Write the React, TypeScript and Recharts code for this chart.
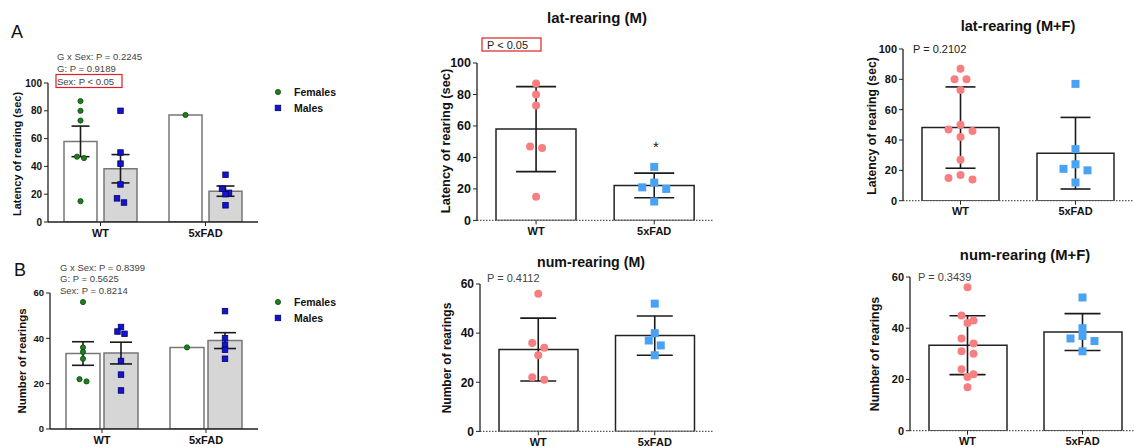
import { Bar, ComposedChart, ErrorBar, Scatter, XAxis, YAxis } from "recharts";

const GROUPS = ["WT", "5xFAD"];
const LAT_TICKS = [0, 20, 40, 60, 80, 100];
const NUM_TICKS = [0, 20, 40, 60];

// A: latency of rearing (sec), split by sex
const latFemales = [[87, 80, 73, 47, 46, 15], [77]];
const latMales = [[80, 50, 42, 27, 17, 14], [34, 24, 21, 20, 12]];
const latFemalesMean = [58, 77];
const latFemalesSem = [11, null];
const latMalesMean = [38.3, 22.2];
const latMalesSem = [10.2, 3.7];

// A: lat-rearing (M)
const latM = [[87, 80, 73, 47, 46, 15], [34, 24, 21, 20, 12]];
const latMMean = [58, 22.2];
const latMSd = [27, 7.8];

// A: lat-rearing (M+F)
const latMF = [[87, 80, 80, 73, 50, 47, 46, 42, 27, 17, 15, 14], [77, 34, 24, 21, 20, 12]];
const latMFMean = [48.2, 31.3];
const latMFSd = [26.8, 23.6];

// B: number of rearings, split by sex
const numFemales = [[56, 36, 34, 31, 22, 21], [36]];
const numMales = [[45, 43, 42, 30, 24, 17], [52, 40, 37, 35, 31]];
const numFemalesMean = [33.3, 36];
const numFemalesSem = [5.2, null];
const numMalesMean = [33.5, 39];
const numMalesSem = [4.8, 3.5];

// B: num-rearing (M)
const numM = [[56, 36, 34, 31, 22, 21], [52, 40, 37, 35, 31]];
const numMMean = [33.3, 39];
const numMSd = [12.8, 8];

// B: num-rearing (M+F)
const numMF = [[56, 45, 43, 42, 36, 34, 31, 30, 24, 22, 21, 17], [52, 40, 37, 36, 35, 31]];
const numMFMean = [33.4, 38.5];
const numMFSd = [11.5, 7.2];

const FONT = "'Liberation Sans', Arial, Helvetica, sans-serif";
const GREEN = "#1f7d1f";
const NAVY = "#1414cc";
const PINK = "#f77f81";
const SKY = "#4aa2f5";

type Marker = (props: any) => JSX.Element;

const dot = (r: number, fill: string, stroke = "none"): Marker => (p: any) =>
  p.cx == null ? <g /> : <circle cx={p.cx} cy={p.cy} r={r} fill={fill} stroke={stroke} strokeWidth={0.8} />;

const square = (s: number, fill: string, stroke = "none"): Marker => (p: any) =>
  p.cx == null ? <g /> : (
    <rect x={p.cx - s / 2} y={p.cy - s / 2} width={s} height={s} fill={fill} stroke={stroke} strokeWidth={0.8} />
  );

const femaleMarker = dot(2.6, GREEN, "#0d4d0d");
const maleMarker = square(5.5, NAVY, "#00006e");
const pinkMarker = dot(4, PINK);
const skyMarker = square(8, SKY);

interface Series {
  key: string;
  points: number[][];
  mean: number[];
  err: (number | null)[];
  markers: Marker[]; // one per group
  barFill: string;
}

interface PanelProps {
  x0: number;
  x1: number;
  yTop: number;
  yBot: number;
  yMax: number;
  yTicks: number[];
  series: Series[];
  barSize: number;
  barGap?: number;
  cap: number;
  tickFont: number;
  diam: number;
  step: number;
  barStroke: string;
  dottedX?: boolean;
}

// simple beeswarm: points close in y are spread sideways (pixel offsets)
function swarm(values: number[], pxPerUnit: number, diam: number, step: number) {
  const order = values.map((_, i) => i).sort((a, b) => values[b] - values[a]);
  const out = new Array(values.length).fill(0);
  let row: number[] = [];
  const flush = () => {
    const k = row.length;
    const slots: number[] = [];
    if (k % 2) {
      slots.push(0);
      for (let j = 1; slots.length < k; j++) slots.push(-j * step, j * step);
    } else {
      for (let j = 0; slots.length < k; j++) slots.push(-(j + 0.5) * step, (j + 0.5) * step);
    }
    row.forEach((idx, j) => (out[idx] = slots[j]));
    row = [];
  };
  order.forEach((idx) => {
    if (row.length && (values[row[0]] - values[idx]) * pxPerUnit >= diam * 0.9) flush();
    row.push(idx);
  });
  if (row.length) flush();
  return out;
}

function Panel(p: PanelProps) {
  const padL = 44;
  const padR = 6;
  const padT = 8;
  const padB = 28;
  const plotW = p.x1 - p.x0;
  const plotH = p.yBot - p.yTop;
  const band = plotW / GROUPS.length;
  const pxPerUnit = plotH / p.yMax;
  const gap = p.barGap ?? 0;
  const n = p.series.length;

  const rows = GROUPS.map((g, i) => {
    const r: Record<string, string | number> = { group: g };
    p.series.forEach((s) => (r[s.key] = s.mean[i]));
    return r;
  });
  const shift = (k: number) => (n === 1 ? 0 : ((k - (n - 1) / 2) * (p.barSize + gap)) / band);

  const tick = { fontSize: p.tickFont, fontWeight: 700, fill: "#111", fontFamily: FONT };
  const xTick = { fontSize: 11, fontWeight: 700, fill: "#111", fontFamily: FONT };

  return (
    <div style={{ position: "absolute", left: p.x0 - padL, top: p.yTop - padT }}>
      <ComposedChart
        width={plotW + padL + padR}
        height={plotH + padT + padB}
        data={rows}
        margin={{ top: padT, right: padR, bottom: 0, left: 0 }}
        barGap={gap}
      >
        <XAxis
          xAxisId="cat"
          dataKey="group"
          type="category"
          height={padB}
          tick={xTick}
          tickSize={4}
          tickMargin={3}
          tickLine={{ stroke: "#222" }}
          axisLine={
            p.dottedX
              ? { stroke: "#555", strokeDasharray: "1.5 1.5", strokeWidth: 1.2 }
              : { stroke: "#222", strokeWidth: 1.3 }
          }
        />
        <XAxis xAxisId="num" dataKey="x" type="number" domain={[0, GROUPS.length]} allowDataOverflow hide />
        <YAxis
          dataKey="y"
          type="number"
          width={padL}
          domain={[0, p.yMax]}
          ticks={p.yTicks}
          allowDataOverflow
          interval={0}
          tick={tick}
          tickSize={4}
          tickMargin={2}
          tickLine={{ stroke: "#222" }}
          axisLine={{ stroke: "#222", strokeWidth: 1.3 }}
        />
        {p.series.map((s) => (
          <Bar
            key={`bar-${s.key}`}
            xAxisId="cat"
            dataKey={s.key}
            barSize={p.barSize}
            fill={s.barFill}
            stroke={p.barStroke}
            strokeWidth={1.5}
            isAnimationActive={false}
          />
        ))}
        {p.series.map((s, k) =>
          s.points.map((vals, gi) => {
            const offs = swarm(vals, pxPerUnit, p.diam, p.step);
            const data = vals.map((v, j) => ({ x: gi + 0.5 + shift(k) + offs[j] / band, y: v }));
            return (
              <Scatter
                key={`pts-${s.key}-${gi}`}
                xAxisId="num"
                data={data}
                shape={s.markers[gi]}
                isAnimationActive={false}
              />
            );
          })
        )}
        {p.series.map((s, k) => {
          const data = GROUPS.map((_, gi) => ({ x: gi + 0.5 + shift(k), y: s.mean[gi], err: s.err[gi] })).filter(
            (d) => d.err != null
          );
          return (
            <Scatter key={`err-${s.key}`} xAxisId="num" data={data} shape={() => <g />} isAnimationActive={false}>
              <ErrorBar dataKey="err" direction="y" width={p.cap} stroke="#1a1a1a" strokeWidth={1.6} />
            </Scatter>
          );
        })}
      </ComposedChart>
    </div>
  );
}

const T = (props: any) => <text fontFamily={FONT} dominantBaseline="central" {...props} />;

const YTitle = ({ x, y, size, children }: { x: number; y: number; size: number; children: string }) => (
  <T x={x} y={y} fontSize={size} fontWeight={700} fill="#111" textAnchor="middle" transform={`rotate(-90 ${x} ${y})`}>
    {children}
  </T>
);

export default function App() {
  return (
    <div
      style={{
        position: "absolute",
        left: 0,
        top: 0,
        width: 1134,
        height: 447,
        background: "#fff",
        overflow: "hidden",
        fontFamily: FONT,
      }}
    >
      <Panel
        x0={48}
        x1={258}
        yTop={82.7}
        yBot={221.7}
        yMax={100}
        yTicks={LAT_TICKS}
        barSize={33}
        barGap={7}
        cap={9}
        tickFont={10}
        diam={5}
        step={7}
        barStroke="#777"
        series={[
          { key: "f", points: latFemales, mean: latFemalesMean, err: latFemalesSem, markers: [femaleMarker, femaleMarker], barFill: "#fff" },
          { key: "m", points: latMales, mean: latMalesMean, err: latMalesSem, markers: [maleMarker, maleMarker], barFill: "#d6d6d6" },
        ]}
      />
      <Panel
        x0={476.7}
        x1={713}
        yTop={63.3}
        yBot={220.7}
        yMax={100}
        yTicks={LAT_TICKS}
        barSize={80}
        cap={20}
        tickFont={12.5}
        diam={8}
        step={12}
        barStroke="#222"
        dottedX
        series={[{ key: "v", points: latM, mean: latMMean, err: latMSd, markers: [pinkMarker, skyMarker], barFill: "#fff" }]}
      />
      <Panel
        x0={903}
        x1={1133}
        yTop={49}
        yBot={200.7}
        yMax={100}
        yTicks={LAT_TICKS}
        barSize={77}
        cap={15}
        tickFont={11}
        diam={8}
        step={12}
        barStroke="#222"
        dottedX
        series={[{ key: "v", points: latMF, mean: latMFMean, err: latMFSd, markers: [pinkMarker, skyMarker], barFill: "#fff" }]}
      />
      <Panel
        x0={50}
        x1={258}
        yTop={293.3}
        yBot={429.3}
        yMax={60}
        yTicks={NUM_TICKS}
        barSize={34}
        barGap={4}
        cap={11}
        tickFont={9.5}
        diam={5}
        step={7}
        barStroke="#777"
        series={[
          { key: "f", points: numFemales, mean: numFemalesMean, err: numFemalesSem, markers: [femaleMarker, femaleMarker], barFill: "#fff" },
          { key: "m", points: numMales, mean: numMalesMean, err: numMalesSem, markers: [maleMarker, maleMarker], barFill: "#d6d6d6" },
        ]}
      />
      <Panel
        x0={480}
        x1={713}
        yTop={284.3}
        yBot={431.7}
        yMax={60}
        yTicks={NUM_TICKS}
        barSize={79}
        cap={18}
        tickFont={12}
        diam={8}
        step={12}
        barStroke="#222"
        dottedX
        series={[{ key: "v", points: numM, mean: numMMean, err: numMSd, markers: [pinkMarker, skyMarker], barFill: "#fff" }]}
      />
      <Panel
        x0={910}
        x1={1140}
        yTop={277.3}
        yBot={431}
        yMax={60}
        yTicks={NUM_TICKS}
        barSize={78}
        cap={18}
        tickFont={11}
        diam={8}
        step={12}
        barStroke="#222"
        dottedX
        series={[{ key: "v", points: numMF, mean: numMFMean, err: numMFSd, markers: [pinkMarker, skyMarker], barFill: "#fff" }]}
      />

      <svg
        width={1134}
        height={447}
        style={{ position: "absolute", left: 0, top: 0, pointerEvents: "none" }}
      >
        {/* panel letters */}
        <T x={11} y={32} fontSize={18} fill="#111">A</T>
        <T x={14} y={270} fontSize={18} fill="#111">B</T>

        {/* A, by sex */}
        <T x={57} y={56} fontSize={9.5} fill="#444">G x Sex: P = 0.2245</T>
        <T x={57} y={68} fontSize={9.5} fill="#444">G: P = 0.9189</T>
        <T x={57} y={81} fontSize={9.5} fill="#444">Sex: P &lt; 0.05</T>
        <rect x={56} y={74.5} width={66} height={13} fill="none" stroke="#e02020" strokeWidth={1.2} />
        <circle cx={278} cy={92} r={2.6} fill={GREEN} stroke="#0d4d0d" strokeWidth={0.8} />
        <T x={294} y={92} fontSize={10.5} fontWeight={700} fill="#111">Females</T>
        <rect x={275.2} y={105.2} width={5.5} height={5.5} fill={NAVY} stroke="#00006e" strokeWidth={0.8} />
        <T x={294} y={108} fontSize={10.5} fontWeight={700} fill="#111">Males</T>
        <YTitle x={17} y={154} size={11}>Latency of rearing (sec)</YTitle>

        {/* A, males */}
        <T x={597} y={17} fontSize={15} fontWeight={700} fill="#111" textAnchor="middle">lat-rearing (M)</T>
        <T x={487} y={44.5} fontSize={11} fill="#222">P &lt; 0.05</T>
        <rect x={482} y={38} width={59} height={13} fill="none" stroke="#e02020" strokeWidth={1.2} />
        <T x={656} y={146} fontSize={15} fill="#222" textAnchor="middle">*</T>
        <YTitle x={445} y={141} size={12.8}>Latency of rearing (sec)</YTitle>

        {/* A, males + females */}
        <T x={1018} y={26} fontSize={14.6} fontWeight={700} fill="#111" textAnchor="middle">lat-rearing (M+F)</T>
        <T x={913} y={49} fontSize={11} fill="#222">P = 0.2102</T>
        <YTitle x={871.5} y={126} size={12.2}>Latency of rearing (sec)</YTitle>

        {/* B, by sex */}
        <T x={60} y={267} fontSize={9.5} fill="#444">G x Sex: P = 0.8399</T>
        <T x={60} y={278.5} fontSize={9.5} fill="#444">G: P = 0.5625</T>
        <T x={60} y={290} fontSize={9.5} fill="#444">Sex: P = 0.8214</T>
        <circle cx={278} cy={302} r={2.6} fill={GREEN} stroke="#0d4d0d" strokeWidth={0.8} />
        <T x={294} y={302} fontSize={10.5} fontWeight={700} fill="#111">Females</T>
        <rect x={275.2} y={315.2} width={5.5} height={5.5} fill={NAVY} stroke="#00006e" strokeWidth={0.8} />
        <T x={294} y={318} fontSize={10.5} fontWeight={700} fill="#111">Males</T>
        <YTitle x={21.5} y={361} size={11.4}>Number of rearings</YTitle>

        {/* B, males */}
        <T x={591} y={262} fontSize={14.2} fontWeight={700} fill="#111" textAnchor="middle">num-rearing (M)</T>
        <T x={487} y={278} fontSize={11} fill="#444">P = 0.4112</T>
        <YTitle x={446.5} y={358} size={12}>Number of rearings</YTitle>

        {/* B, males + females */}
        <T x={1025} y={255} fontSize={14.8} fontWeight={700} fill="#111" textAnchor="middle">num-rearing (M+F)</T>
        <T x={918} y={277} fontSize={11} fill="#444">P = 0.3439</T>
        <YTitle x={875} y={354} size={12.4}>Number of rearings</YTitle>
      </svg>
    </div>
  );
}
